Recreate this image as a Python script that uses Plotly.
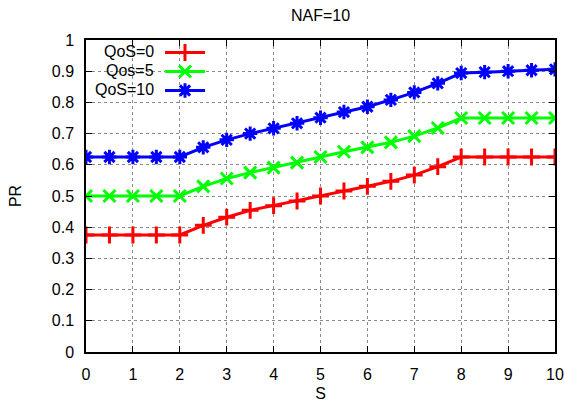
import plotly.graph_objects as go

s_values = [0, 0.5, 1, 1.5, 2, 2.5, 3, 3.5, 4, 4.5, 5, 5.5, 6, 6.5, 7, 7.5, 8, 8.5, 9, 9.5, 10]
qos0 = [0.375, 0.375, 0.375, 0.375, 0.375, 0.406, 0.432, 0.454, 0.469, 0.484, 0.5, 0.516,
        0.531, 0.547, 0.567, 0.594, 0.625, 0.625, 0.625, 0.625, 0.625]
qos5 = [0.5, 0.5, 0.5, 0.5, 0.5, 0.531, 0.556, 0.575, 0.591, 0.607, 0.625, 0.642,
        0.656, 0.672, 0.692, 0.718, 0.75, 0.75, 0.75, 0.75, 0.75]
qos10 = [0.625, 0.625, 0.625, 0.625, 0.625, 0.656, 0.68, 0.7, 0.717, 0.733, 0.751, 0.769,
         0.786, 0.808, 0.832, 0.861, 0.894, 0.897, 0.9, 0.903, 0.906]

series_names = ["QoS=0", "Qos=5", "QoS=10"]
series_colors = ["#ff0000", "#00ff00", "#0000ff"]
series_symbols = ["cross-thin", "x-thin", "asterisk"]
x_ticks = list(range(0, 11))
y_ticks = [0, 0.1, 0.2, 0.3, 0.4, 0.5, 0.6, 0.7, 0.8, 0.9, 1]
y_tick_labels = ["0", "0.1", "0.2", "0.3", "0.4", "0.5", "0.6", "0.7", "0.8", "0.9", "1"]

FONT = "Liberation Sans, Arial, Helvetica, sans-serif"
PLOT_W, PLOT_H = 469, 312

fig = go.Figure()
for name, ys, col, sym in zip(series_names, [qos0, qos5, qos10], series_colors, series_symbols):
    fig.add_trace(go.Scatter(
        x=s_values, y=ys, mode="lines+markers", name=" ",
        line=dict(color=col, width=3),
        marker=dict(symbol=sym, size=12, color=col, line=dict(color=col, width=3)),
        showlegend=True,
    ))

# legend labels (right aligned, gnuplot style)
for i, name in enumerate(series_names):
    fig.add_annotation(
        xref="paper", yref="paper", x=(156 - 86) / PLOT_W, y=1 - (11 + 19 * i) / PLOT_H,
        text=name, showarrow=False, xanchor="right", yanchor="middle",
        font=dict(family=FONT, size=16, color="black"),
    )

axis_common = dict(
    showline=True, linecolor="black", linewidth=1.5, mirror="ticks",
    ticks="inside", ticklen=6, tickcolor="black",
    showgrid=True, gridcolor="#8a8a8a", griddash="dot", gridwidth=1,
    zeroline=False,
    tickfont=dict(family=FONT, size=16, color="black"),
    ticklabelstandoff=7,
)

fig.update_xaxes(range=[0, 10], tickvals=x_ticks, ticktext=[str(v) for v in x_ticks],
                 title=dict(text="S", font=dict(family=FONT, size=16, color="black"), standoff=6),
                 **axis_common)
fig.update_yaxes(range=[0, 1], tickvals=y_ticks, ticktext=y_tick_labels,
                 title=dict(text="PR", font=dict(family=FONT, size=16, color="black"), standoff=26),
                 **axis_common)

fig.update_layout(
    width=564, height=402,
    margin=dict(l=86, r=9, t=40, b=50, autoexpand=False),
    paper_bgcolor="white", plot_bgcolor="white",
    title=dict(text="NAF=10", x=(86 + 555) / 2 / 564, xanchor="center", y=1 - 15 / 402, yanchor="middle",
               font=dict(family=FONT, size=16, color="black")),
    legend=dict(x=(160 - 86) / PLOT_W, y=1 + 2 / PLOT_H, xanchor="left", yanchor="top",
                bgcolor="rgba(0,0,0,0)", font=dict(family=FONT, size=10), itemwidth=40,
                tracegroupgap=0),
    showlegend=True,
)

fig.write_html("out.html", config={"displayModeBar": False},
               post_script="document.body.style.margin='0px';document.body.style.overflow='hidden';")
